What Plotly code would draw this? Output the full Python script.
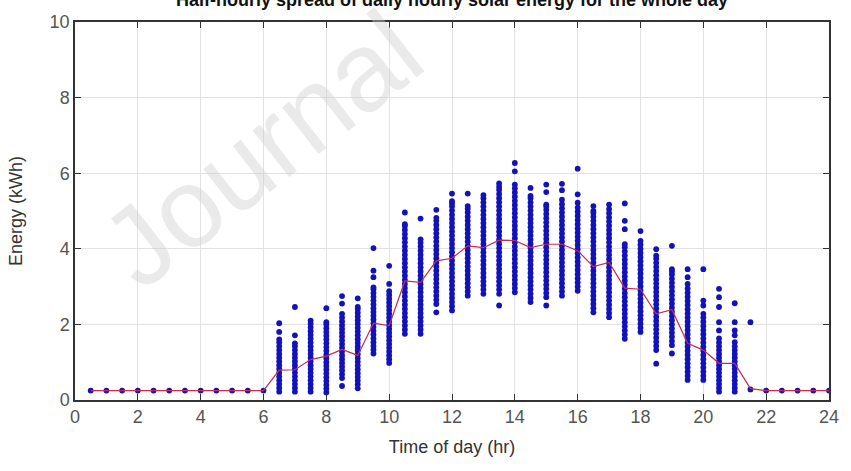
import plotly.graph_objects as go

# Half-hour time steps
hours = [0.5, 1.0, 1.5, 2.0, 2.5, 3.0, 3.5, 4.0, 4.5, 5.0, 5.5, 6.0,
         6.5, 7.0, 7.5, 8.0, 8.5, 9.0, 9.5, 10.0, 10.5, 11.0, 11.5, 12.0,
         12.5, 13.0, 13.5, 14.0, 14.5, 15.0, 15.5, 16.0, 16.5, 17.0, 17.5, 18.0,
         18.5, 19.0, 19.5, 20.0, 20.5, 21.0, 21.5, 22.0, 22.5, 23.0, 23.5, 24.0]

# Mean energy per time step (red line)
mean_energy = [0.25, 0.25, 0.25, 0.25, 0.25, 0.25, 0.25, 0.25, 0.25, 0.25, 0.25, 0.25,
               0.79, 0.80, 1.07, 1.16, 1.34, 1.18, 2.03, 1.97, 3.15, 3.11, 3.68, 3.75,
               4.08, 4.03, 4.23, 4.22, 4.03, 4.12, 4.12, 3.95, 3.53, 3.64, 2.96, 2.93,
               2.28, 2.39, 1.50, 1.32, 0.97, 0.97, 0.30, 0.25, 0.25, 0.25, 0.25, 0.25]

night = [0.25]

# Observed daily energy values per time step (blue dots)
samples = [
    night, night, night, night, night, night, night, night, night, night, night, night,
    [0.22, 0.32, 0.42, 0.52, 0.62, 0.72, 0.82, 0.92, 1.02, 1.12, 1.22, 1.32, 1.42, 1.52, 1.6, 1.8, 2.03],
    [0.22, 0.32, 0.42, 0.52, 0.62, 0.72, 0.82, 0.92, 1.02, 1.12, 1.22, 1.32, 1.42, 1.5, 1.71, 2.46],
    [0.22, 0.32, 0.42, 0.52, 0.62, 0.72, 0.82, 0.92, 1.02, 1.12, 1.22, 1.32, 1.42, 1.52, 1.62, 1.72, 1.82, 1.92, 2.02, 2.1],
    [0.2, 0.3, 0.4, 0.5, 0.6, 0.7, 0.8, 0.9, 1.0, 1.1, 1.2, 1.3, 1.4, 1.5, 1.6, 1.7, 1.8, 1.9, 2.0, 2.06, 2.43],
    [0.37, 0.58, 0.68, 0.78, 0.88, 0.98, 1.08, 1.18, 1.28, 1.38, 1.48, 1.58, 1.68, 1.78, 1.88, 1.98, 2.08, 2.18, 2.28, 2.55, 2.75],
    [0.31, 0.41, 0.51, 0.61, 0.71, 0.81, 0.91, 1.01, 1.11, 1.21, 1.31, 1.41, 1.51, 1.61, 1.71, 1.81, 1.91, 2.01, 2.11, 2.21, 2.31, 2.41, 2.46, 2.69],
    [1.23, 1.33, 1.43, 1.53, 1.63, 1.73, 1.83, 1.93, 2.03, 2.13, 2.23, 2.33, 2.43, 2.53, 2.63, 2.73, 2.83, 2.93, 2.98, 3.25, 3.42, 4.02],
    [0.98, 1.08, 1.18, 1.28, 1.38, 1.48, 1.58, 1.68, 1.78, 1.88, 1.98, 2.08, 2.18, 2.28, 2.38, 2.48, 2.58, 2.68, 2.78, 2.88, 3.07, 3.55],
    [1.75, 1.86, 1.97, 2.08, 2.19, 2.3, 2.41, 2.52, 2.63, 2.74, 2.85, 2.96, 3.07, 3.18, 3.29, 3.4, 3.51, 3.62, 3.73, 3.84, 3.95, 4.06, 4.17, 4.28, 4.39, 4.5, 4.6, 4.65, 4.96],
    [1.75, 1.86, 1.97, 2.08, 2.19, 2.3, 2.41, 2.52, 2.63, 2.74, 2.85, 2.96, 3.07, 3.18, 3.29, 3.4, 3.51, 3.62, 3.73, 3.84, 3.95, 4.06, 4.16, 4.25, 4.8],
    [2.32, 2.54, 2.65, 2.76, 2.87, 2.98, 3.09, 3.2, 3.31, 3.42, 3.53, 3.64, 3.75, 3.86, 3.97, 4.08, 4.19, 4.3, 4.41, 4.52, 4.63, 4.74, 4.82, 5.03],
    [2.37, 2.48, 2.59, 2.7, 2.81, 2.92, 3.03, 3.14, 3.25, 3.36, 3.47, 3.58, 3.69, 3.8, 3.91, 4.02, 4.13, 4.24, 4.35, 4.46, 4.57, 4.68, 4.79, 4.9, 5.01, 5.12, 5.2, 5.26, 5.46],
    [2.76, 2.87, 2.98, 3.09, 3.2, 3.31, 3.42, 3.53, 3.64, 3.75, 3.86, 3.97, 4.08, 4.19, 4.3, 4.41, 4.52, 4.63, 4.74, 4.85, 4.96, 5.06, 5.13, 5.46],
    [2.81, 2.92, 3.03, 3.14, 3.25, 3.36, 3.47, 3.58, 3.69, 3.8, 3.91, 4.02, 4.13, 4.24, 4.35, 4.46, 4.57, 4.68, 4.79, 4.9, 5.01, 5.12, 5.23, 5.34, 5.42],
    [2.5, 2.81, 2.92, 3.03, 3.14, 3.25, 3.36, 3.47, 3.58, 3.69, 3.8, 3.91, 4.02, 4.13, 4.24, 4.35, 4.46, 4.57, 4.68, 4.79, 4.9, 5.01, 5.12, 5.23, 5.34, 5.45, 5.56, 5.64, 5.73],
    [2.85, 2.96, 3.07, 3.18, 3.29, 3.4, 3.51, 3.62, 3.73, 3.84, 3.95, 4.06, 4.17, 4.28, 4.39, 4.5, 4.61, 4.72, 4.83, 4.94, 5.05, 5.16, 5.27, 5.38, 5.49, 5.6, 5.7, 6.05, 6.27],
    [2.59, 2.7, 2.81, 2.92, 3.03, 3.14, 3.25, 3.36, 3.47, 3.58, 3.69, 3.8, 3.91, 4.02, 4.13, 4.24, 4.35, 4.46, 4.57, 4.68, 4.79, 4.9, 5.01, 5.12, 5.23, 5.34, 5.4, 5.61],
    [2.5, 2.72, 2.83, 2.94, 3.05, 3.16, 3.27, 3.38, 3.49, 3.6, 3.71, 3.82, 3.93, 4.04, 4.15, 4.26, 4.37, 4.48, 4.59, 4.7, 4.81, 4.92, 5.03, 5.12, 5.17, 5.5, 5.7],
    [2.76, 2.87, 2.98, 3.09, 3.2, 3.31, 3.42, 3.53, 3.64, 3.75, 3.86, 3.97, 4.08, 4.19, 4.3, 4.41, 4.52, 4.63, 4.74, 4.85, 4.96, 5.07, 5.18, 5.3, 5.55, 5.72],
    [2.89, 3.0, 3.11, 3.22, 3.33, 3.44, 3.55, 3.66, 3.77, 3.88, 3.99, 4.1, 4.21, 4.32, 4.43, 4.54, 4.65, 4.76, 4.87, 4.98, 5.09, 5.22, 5.44, 6.12],
    [2.32, 2.43, 2.54, 2.65, 2.76, 2.87, 2.98, 3.09, 3.2, 3.31, 3.42, 3.53, 3.64, 3.75, 3.86, 3.97, 4.08, 4.19, 4.3, 4.41, 4.52, 4.63, 4.74, 4.85, 4.95, 5.0, 5.13],
    [2.19, 2.3, 2.41, 2.52, 2.63, 2.74, 2.85, 2.96, 3.07, 3.18, 3.29, 3.4, 3.51, 3.62, 3.73, 3.84, 3.95, 4.06, 4.17, 4.28, 4.39, 4.5, 4.61, 4.72, 4.83, 4.94, 5.05, 5.17],
    [1.62, 1.73, 1.84, 1.95, 2.06, 2.17, 2.28, 2.39, 2.5, 2.61, 2.72, 2.83, 2.94, 3.05, 3.16, 3.27, 3.38, 3.49, 3.6, 3.71, 3.82, 3.93, 4.04, 4.12, 4.52, 4.74, 5.2],
    [1.8, 1.91, 2.02, 2.13, 2.24, 2.35, 2.46, 2.57, 2.68, 2.79, 2.9, 3.01, 3.12, 3.23, 3.34, 3.45, 3.56, 3.67, 3.78, 3.89, 4.0, 4.11, 4.21, 4.47],
    [0.96, 1.32, 1.43, 1.54, 1.65, 1.76, 1.87, 1.98, 2.09, 2.2, 2.31, 2.42, 2.53, 2.64, 2.75, 2.86, 2.97, 3.08, 3.19, 3.3, 3.41, 3.52, 3.63, 3.74, 3.82, 3.99],
    [1.23, 1.45, 1.56, 1.67, 1.78, 1.89, 2.0, 2.11, 2.22, 2.33, 2.44, 2.55, 2.66, 2.77, 2.88, 2.99, 3.1, 3.21, 3.32, 3.4, 3.46, 4.08],
    [0.53, 0.64, 0.75, 0.86, 0.97, 1.08, 1.19, 1.3, 1.41, 1.52, 1.63, 1.74, 1.85, 1.96, 2.07, 2.18, 2.29, 2.4, 2.51, 2.62, 2.73, 2.84, 2.95, 3.07, 3.25, 3.46],
    [0.53, 0.64, 0.75, 0.86, 0.97, 1.08, 1.19, 1.3, 1.41, 1.52, 1.63, 1.74, 1.85, 1.96, 2.07, 2.18, 2.28, 2.5, 2.63, 3.46],
    [0.22, 0.32, 0.42, 0.52, 0.62, 0.72, 0.82, 0.92, 1.02, 1.12, 1.22, 1.32, 1.42, 1.52, 1.63, 1.84, 2.06, 2.46, 2.72, 2.94],
    [0.22, 0.32, 0.42, 0.52, 0.62, 0.72, 0.82, 0.92, 1.02, 1.12, 1.22, 1.32, 1.42, 1.53, 1.71, 1.84, 2.06, 2.56],
    [0.28, 2.06],
    night, night, night, night, night,
]

x_ticks = [0, 2, 4, 6, 8, 10, 12, 14, 16, 18, 20, 22, 24]
y_ticks = [0, 2, 4, 6, 8, 10]

title_text = "Half-hourly spread of daily hourly solar energy for the whole day"
watermark = "Journal"

# Flatten samples for plotting
sx, sy = [], []
for h, vals in zip(hours, samples):
    for v in vals:
        sx.append(h)
        sy.append(v)

fig = go.Figure()
fig.add_trace(go.Scatter(
    x=sx, y=sy, mode="markers",
    marker=dict(size=5.8, color="#1212bc", line=dict(width=0)),
    showlegend=False, hoverinfo="x+y"))
fig.add_trace(go.Scatter(
    x=hours, y=mean_energy, mode="lines",
    line=dict(color="#c42c50", width=1.2),
    showlegend=False))

font_family = "Liberation Sans, Arial, sans-serif"

fig.update_layout(
    width=851, height=471,
    margin=dict(l=75, r=21, t=20, b=71),
    paper_bgcolor="white", plot_bgcolor="white",
    font=dict(family=font_family, size=18, color="#444"),
    xaxis=dict(
        range=[0, 24], tickvals=x_ticks, ticktext=[str(t) for t in x_ticks],
        showgrid=True, gridcolor="#e2e2e2", gridwidth=1,
        showline=True, linecolor="#333", linewidth=1.5, mirror="ticks",
        ticks="inside", ticklen=6, tickcolor="#333", tickwidth=1.2,
        tickfont=dict(size=18, color="#555"),
        title=dict(text="Time of day (hr)", font=dict(size=18, color="#333"), standoff=14),
        zeroline=False),
    yaxis=dict(
        range=[0, 10], tickvals=y_ticks, ticktext=[str(t) for t in y_ticks],
        showgrid=True, gridcolor="#e2e2e2", gridwidth=1,
        showline=True, linecolor="#333", linewidth=1.5, mirror="ticks",
        ticks="inside", ticklen=6, tickcolor="#333", tickwidth=1.2,
        tickfont=dict(size=18, color="#555"),
        title=dict(text="Energy (kWh)", font=dict(size=18, color="#333"), standoff=22),
        zeroline=False),
)

fig.add_annotation(
    text="<b>" + title_text + "</b>", xref="paper", yref="paper",
    x=0.5, y=1 + 10 / 380, xanchor="center", yanchor="bottom",
    showarrow=False, font=dict(size=18, color="#111", family=font_family))

fig.add_annotation(
    text=watermark, xref="paper", yref="paper",
    x=(262 - 75) / 755, y=(400 - 148) / 380, xanchor="center", yanchor="middle",
    textangle=-38, showarrow=False,
    font=dict(size=112, color="rgba(205,205,205,0.42)", family=font_family))

fig.write_html("out.html")
